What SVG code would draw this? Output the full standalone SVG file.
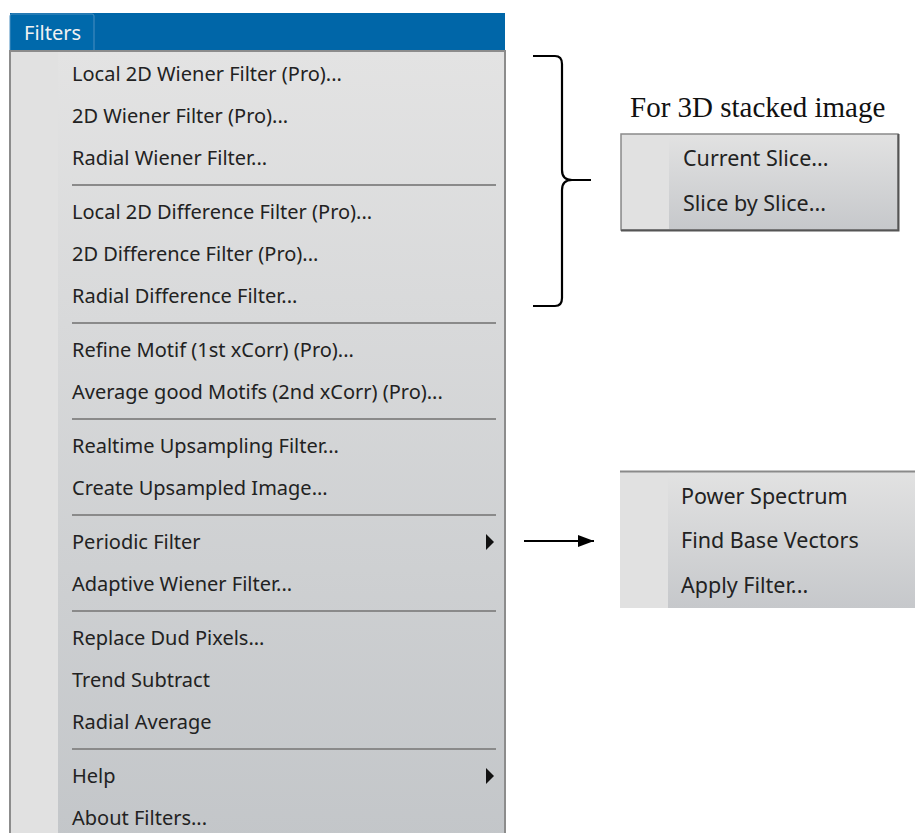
<svg xmlns="http://www.w3.org/2000/svg" width="915" height="833" viewBox="0 0 915 833">
<defs>
<linearGradient id="menuGrad" x1="0" y1="0" x2="0" y2="1">
<stop offset="0" stop-color="#e3e3e3"/>
<stop offset="1" stop-color="#c3c6c9"/>
</linearGradient>
<linearGradient id="subGrad" x1="0" y1="0" x2="0" y2="1">
<stop offset="0" stop-color="#e2e2e2"/>
<stop offset="1" stop-color="#c6c8cb"/>
</linearGradient>
<marker id="arrow" viewBox="0 0 16 12" refX="16" refY="6" markerWidth="16" markerHeight="12" markerUnits="userSpaceOnUse" orient="auto">
<path d="M0,0 L16,6 L0,12 Z" fill="#000"/>
</marker>
</defs>
<style>
.item{font-family:"Noto Sans","Open Sans","DejaVu Sans",sans-serif;font-size:20px;fill:#222}
.sub{font-size:21.5px}
.sep{stroke:#8a8a8a;stroke-width:2}
.tri{fill:#111}
.note{font-family:"Liberation Serif","Times New Roman",serif;font-size:29px;fill:#111}
</style>
<rect width="915" height="833" fill="#fff"/>

<g id="main-menu">
<rect x="10" y="13" width="495" height="38" fill="#0066a8"/>
<path d="M10,51 L10,16 Q10,14 12,14 L92,14 Q94,14 94,16 L94,51" fill="#0069ab" stroke="#4a8fc0" stroke-width="1"/>
<text x="24" y="40" class="item" style="fill:#f2f2f2">Filters</text>
<rect x="10" y="51" width="495" height="790" fill="url(#menuGrad)" stroke="#8c8c8c" stroke-width="2"/>
<rect x="11" y="52" width="47" height="790" fill="#e1e1e1"/>
</g>

<g id="items">
<text x="72" y="81" class="item">Local 2D Wiener Filter (Pro)...</text>
<text x="72" y="123" class="item">2D Wiener Filter (Pro)...</text>
<text x="72" y="165" class="item">Radial Wiener Filter...</text>
<line x1="72" y1="185" x2="496" y2="185" class="sep"/>
<text x="72" y="219" class="item">Local 2D Difference Filter (Pro)...</text>
<text x="72" y="261" class="item">2D Difference Filter (Pro)...</text>
<text x="72" y="303" class="item">Radial Difference Filter...</text>
<line x1="72" y1="323" x2="496" y2="323" class="sep"/>
<text x="72" y="357" class="item">Refine Motif (1st xCorr) (Pro)...</text>
<text x="72" y="399" class="item">Average good Motifs (2nd xCorr) (Pro)...</text>
<line x1="72" y1="419" x2="496" y2="419" class="sep"/>
<text x="72" y="453" class="item">Realtime Upsampling Filter...</text>
<text x="72" y="495" class="item">Create Upsampled Image...</text>
<line x1="72" y1="515" x2="496" y2="515" class="sep"/>
<text x="72" y="549" class="item">Periodic Filter</text>
<path d="M486,534 L494,542 L486,550 Z" class="tri"/>
<text x="72" y="591" class="item">Adaptive Wiener Filter...</text>
<line x1="72" y1="611" x2="496" y2="611" class="sep"/>
<text x="72" y="645" class="item">Replace Dud Pixels...</text>
<text x="72" y="687" class="item">Trend Subtract</text>
<text x="72" y="729" class="item">Radial Average</text>
<line x1="72" y1="749" x2="496" y2="749" class="sep"/>
<text x="72" y="783" class="item">Help</text>
<path d="M486,768 L494,776 L486,784 Z" class="tri"/>
<text x="72" y="825" class="item">About Filters...</text>
</g>

<g id="stack-submenu">
<text x="630" y="117" class="note">For 3D stacked image</text>
<rect x="621" y="134" width="277" height="96" fill="url(#subGrad)" stroke="#8a8a8a" stroke-width="1.5"/>
<rect x="622" y="135" width="47" height="94" fill="#e1e1e1"/>
<path d="M621,230.5 L898.5,230.5 L898.5,134" fill="none" stroke="#555" stroke-width="2"/>
<text x="683" y="166" class="item sub">Current Slice...</text>
<text x="683" y="211" class="item sub">Slice by Slice...</text>
</g>

<g id="periodic-submenu">
<rect x="620" y="471" width="300" height="137" fill="url(#subGrad)"/>
<rect x="620" y="472" width="48" height="136" fill="#e1e1e1"/>
<line x1="620" y1="471.5" x2="915" y2="471.5" stroke="#8a8a8a" stroke-width="2"/>
<text x="681" y="504" class="item sub">Power Spectrum</text>
<text x="681" y="548" class="item sub">Find Base Vectors</text>
<text x="681" y="593" class="item sub">Apply Filter...</text>
</g>

<g id="connectors">
<path d="M533,56 L555,56 Q562,56 562,64 L562,170 Q562,180 572,180 L591,180 M572,180 Q562,180 562,190 L562,298 Q562,306 555,306 L533,306" fill="none" stroke="#000" stroke-width="2.2"/>
<line x1="524" y1="541" x2="594" y2="541" stroke="#000" stroke-width="2" marker-end="url(#arrow)"/>
</g>
</svg>
